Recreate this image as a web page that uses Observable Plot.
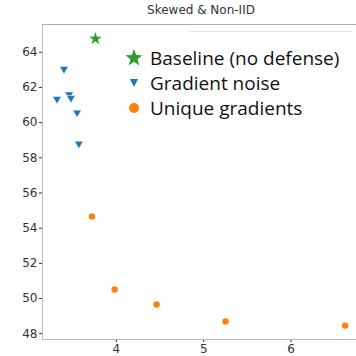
<!DOCTYPE html>
<html><head><meta charset="utf-8">
<script src="https://cdn.jsdelivr.net/npm/d3@7"></script>
<script src="https://cdn.jsdelivr.net/npm/@observablehq/plot@0.6"></script>
<style>
body{margin:0;background:#fff;}
#wrap{position:relative;width:356px;height:356px;overflow:hidden;}
#title{position:absolute;left:0;width:402px;top:3px;text-align:center;font:12px "DejaVu Sans";color:#333;}
#legend{position:absolute;left:124px;top:45px;font:19px "Open Sans";color:#111;}
#legframe{position:absolute;left:188px;top:31px;width:165px;height:0;border-top:1px solid #e4e4e4;}
.row{height:25px;display:flex;align-items:center;white-space:nowrap;}
.row svg{width:20px;height:20px;margin-right:6px;}
</style></head><body>
<div id="wrap"><div id="title">Skewed &amp; Non-IID</div><div id="legframe"></div><div id="legend"></div></div>
<script>
const seriesNames = ["Baseline (no defense)", "Gradient noise", "Unique gradients"];
const seriesColors = ["#2ca02c", "#1f77b4", "#ff7f0e"];
const baselineX = [3.76];
const baselineY = [64.77];
const noiseX = [3.40, 3.32, 3.46, 3.48, 3.55, 3.57];
const noiseY = [63.05, 61.34, 61.6, 61.4, 60.57, 58.8];
const uniqueX = [3.72, 3.98, 4.46, 5.25, 6.62];
const uniqueY = [54.67, 50.51, 49.66, 48.70, 48.46];
const xTicks = [4, 5, 6];
const yTicks = [48, 50, 52, 54, 56, 58, 60, 62, 64];
const xDomain = [3.154, 6.75];
const yDomain = [47.67, 65.58];

const base = baselineX.map((x, i) => ({x, y: baselineY[i]}));
const noise = noiseX.map((x, i) => ({x, y: noiseY[i]}));
const uniq = uniqueX.map((x, i) => ({x, y: uniqueY[i]}));

const plot = Plot.plot({
  width: 356, height: 356,
  marginLeft: 42, marginTop: 24, marginBottom: 17, marginRight: 0,
  style: {fontFamily: "DejaVu Sans", fontSize: "12px", color: "#333", background: "transparent"},
  x: {domain: xDomain, ticks: xTicks, tickFormat: "d", tickSize: 3, tickPadding: 2, label: null},
  y: {domain: yDomain, ticks: yTicks, tickFormat: "d", tickSize: 3, tickPadding: 2, label: null},
  marks: [
    Plot.ruleX([xDomain[0]], {stroke: "#bbb"}),
    Plot.ruleY([yDomain[0]], {stroke: "#bbb"}),
    Plot.ruleY([yDomain[1]], {stroke: "#aaa"}),
    Plot.dot(noise, {x: "x", y: "y", symbol: "triangle", rotate: 180, r: 3.2, fill: seriesColors[1], stroke: "white", strokeWidth: 0.5}),
    Plot.dot(uniq, {x: "x", y: "y", symbol: "circle", r: 3.2, fill: seriesColors[2]}),
    Plot.dot(base, {x: "x", y: "y", symbol: "star", r: 4, fill: seriesColors[0]})
  ]
});
plot.style.position = "absolute";
plot.style.left = "0"; plot.style.top = "0";
document.getElementById("wrap").prepend(plot);

const syms = [
  '<polygon points="10,1 12.2,7 18.5,7.2 13.5,11.2 15.3,17.5 10,13.8 4.7,17.5 6.5,11.2 1.5,7.2 7.8,7" fill="'+seriesColors[0]+'"/>',
  '<polygon points="6,6 14,6 10,14" fill="'+seriesColors[1]+'"/>',
  '<circle cx="10" cy="10" r="5" fill="'+seriesColors[2]+'"/>'
];
const leg = document.getElementById("legend");
seriesNames.forEach((n, i) => {
  const d = document.createElement("div"); d.className = "row";
  d.innerHTML = '<svg viewBox="0 0 20 20">' + syms[i] + '</svg><span>' + n + '</span>';
  leg.appendChild(d);
});
</script></body></html>
